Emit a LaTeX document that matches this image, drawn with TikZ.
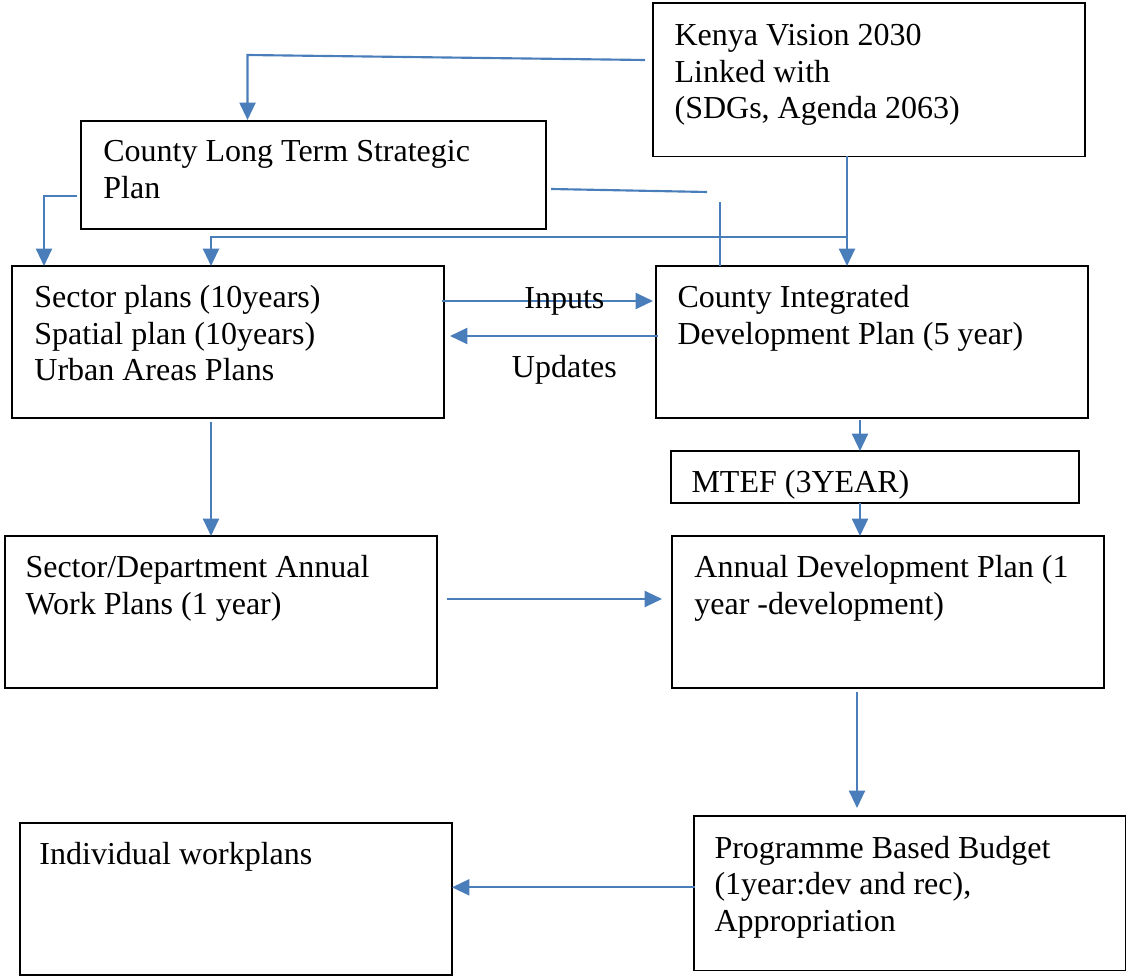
\documentclass[tikz,border=0pt]{standalone}
\usepackage{fontspec}
\setmainfont{Liberation Serif}
\usepackage{tikz}
\usetikzlibrary{arrows.meta, positioning, calc}

\definecolor{linkblue}{HTML}{4A7EBB}

\tikzset{
    plan/.style={rectangle,draw=black,line width=0.5pt,anchor=north west,inner sep=0pt,outer sep=0pt,minimum width=162pt,minimum height=57pt},
    words/.style={anchor=north west,align=left,inner sep=0pt,font=\fontsize{12pt}{13.7pt}\selectfont},
    tag/.style={inner sep=0pt,font=\fontsize{12pt}{13.7pt}\selectfont,text=black},
    flow/.style={draw=linkblue,line width=0.8pt,-{Triangle[length=6.5pt,width=6pt]}},
    link/.style={draw=linkblue,line width=0.8pt}
}

\begin{document}
\begin{tikzpicture}[x=0.375pt,y=-0.375pt]
    \useasboundingbox (0,0) rectangle (1126,976);

    % Boxes
    \node[plan,minimum height=57.5pt] (vision) at (653,3) {};
    \node[plan,minimum width=174.4pt,minimum height=40.5pt] (cltsp) at (81,121) {};
    \node[plan] (sector) at (12,266) {};
    \node[plan] (cidp) at (656,266) {};
    \node[plan,minimum width=153pt,minimum height=19.5pt] (mtef) at (671,451) {};
    \node[plan] (swp) at (5,536) {};
    \node[plan] (adp) at (672,536) {};
    \node[plan] (iwp) at (20,823) {};
    \node[plan,minimum height=58pt] (pbb) at (694,816) {};

    % Texts
    \node[words,below right=7.8pt and 7.9pt of vision.north west] (visiontxt) {Kenya Vision 2030\\Linked with\\(SDGs, Agenda 2063)};
    \node[words,below right=7.1pt and 8.2pt of cltsp.north west] (cltsptxt) {County Long Term Strategic\\Plan};
    \node[words,below right=7.1pt and 8.2pt of sector.north west] (sectortxt) {Sector plans (10years)\\Spatial plan (10years)\\Urban Areas Plans};
    \node[words,below right=7.1pt and 7.9pt of cidp.north west] (cidptxt) {County Integrated\\Development Plan (5 year)};
    \node[words,below right=7.1pt and 7.5pt of mtef.north west] (mteftxt) {MTEF (3YEAR)};
    \node[words,below right=7.1pt and 7.5pt of swp.north west] (swptxt) {Sector/Department Annual\\Work Plans (1 year)};
    \node[words,below right=7.1pt and 8.2pt of adp.north west] (adptxt) {Annual Development Plan (1\\year -development)};
    \node[words,below right=7.1pt and 7.1pt of iwp.north west] (iwptxt) {Individual workplans};
    \node[words,below right=7.3pt and 7.5pt of pbb.north west] (pbbtxt) {Programme Based Budget\\(1year:dev and rec),\\Appropriation};

    % Links from the top
    \coordinate (v1) at ($(vision.north west)+(-8,57)$);
    \draw[flow] (v1) -- ($(cltsp.north)+(-66,-66)$) -- ($(cltsp.north)+(-66,-1)$);
    \draw[flow] ($(cltsp.west)+(-4,21)$) -| ($(sector.north west)+(32,0)$);
    \coordinate (v2) at ($(vision.south)+(-22,0)$);
    \draw[flow] (v2) -- (v2 |- cidp.north);
    \coordinate (v3) at ($(v2)+(0,81)$);
    \draw[flow] (v3) -| ($(sector.north)+(-17,0)$);
    \draw[link] ($(cltsp.east)+(5,14)$) -- ++(156,3);
    \draw[link] ($(cidp.north west)+(64,0)$) -- ++(0,-64);

    % Inputs / Updates
    \draw[flow] ($(sector.east)+(-2,-41)$) -- ($(cidp.west)+(-3,-41)$) node[tag,pos=0.58] (inputs) {Inputs};
    \draw[flow] ($(cidp.west)+(2,-6)$) -- ($(sector.east)+(6,-6)$) node[tag,pos=0.45,below=7pt] (updates) {Updates};

    % Down the right side
    \coordinate (c1) at ($(cidp.south)+(-12,2)$);
    \draw[flow] (c1) -- (mtef.north -| c1);
    \draw[flow] (mtef.south -| c1) -- (adp.north -| c1);
    \coordinate (a1) at ($(adp.south)+(-31,4)$);
    \draw[flow] (a1) -- ($(a1 |- pbb.north)+(0,-8)$);

    % Left side and across
    \coordinate (s1) at ($(sector.south)+(-17,4)$);
    \draw[flow] (s1) -- (s1 |- swp.north);
    \draw[flow] ($(swp.east)+(10,-13)$) -- ($(adp.west)+(-10,-13)$);
    \draw[flow] ($(pbb.west)+(1,-6)$) -- (iwp.east |- {$(pbb.west)+(0,-6)$});
\end{tikzpicture}
\end{document}
